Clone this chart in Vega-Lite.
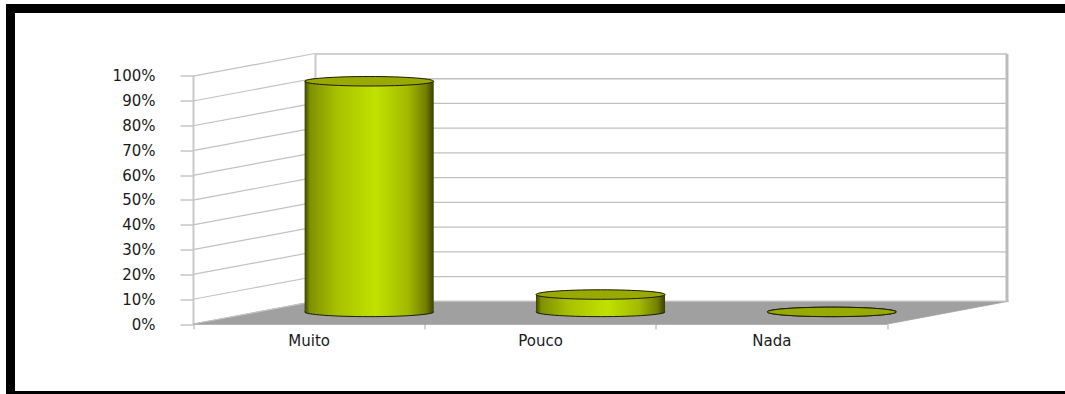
{
  "$schema": "https://vega.github.io/schema/vega-lite/v6.json",
  "autosize": {"type": "none"},
  "padding": {"left": 10.5, "top": 8.5, "right": -12, "bottom": -1.5},
  "width": 1066.5,
  "height": 387,
  "background": "white",
  "config": {
    "view": {"stroke": "black", "strokeWidth": 9, "fill": "white"},
    "axis": {"labelFont": "DejaVu Sans", "labelFontSize": 15, "labelColor": "#1a1a1a"}
  },
  "datasets": {
    "respostas": [
      {"resposta": "Muito", "percentual": 0.93},
      {"resposta": "Pouco", "percentual": 0.07},
      {"resposta": "Nada", "percentual": 0}
    ],
    "marcas": [
      {"v": 0}, {"v": 0.1}, {"v": 0.2}, {"v": 0.3}, {"v": 0.4}, {"v": 0.5},
      {"v": 0.6}, {"v": 0.7}, {"v": 0.8}, {"v": 0.9}, {"v": 1}
    ]
  },
  "resolve": {"scale": {"x": "independent", "y": "independent"}},
  "layer": [
    {
      "data": {"name": "respostas"},
      "mark": {"type": "point", "shape": "M-1,0.0644L0.3132,0.0644L1,-0.0644L-0.3132,-0.0644Z", "size": 124143, "filled": true, "fill": "#a0a0a0", "stroke": "#a0a0a0", "strokeWidth": 0.8, "opacity": 1},
      "encoding": {
        "x": {"field": "resposta", "type": "nominal", "sort": null, "scale": {"type": "band", "domain": ["Muito", "Pouco", "Nada"], "range": [243.5, 937.5], "paddingInner": 0, "paddingOuter": 0}, "axis": null},
        "y": {"datum": 0, "type": "quantitative", "scale": {"domain": [0, 1], "range": [304.15, 56.35], "nice": false}, "axis": null}
      }
    },
    {
      "data": {"name": "marcas"},
      "mark": {"type": "point", "shape": "M-1,0.1861L1,-0.1861", "size": 14884, "filled": false, "stroke": "#c2c2c2", "strokeWidth": 1.2, "opacity": 1},
      "encoding": {
        "x": {"datum": 0, "type": "quantitative", "scale": {"domain": [0, 3], "range": [243.5, 937.5], "nice": false}, "axis": null},
        "y": {"field": "v", "type": "quantitative", "scale": {"domain": [0, 1], "range": [304.15, 56.35], "nice": false}, "axis": null}
      }
    },
    {
      "data": {"name": "marcas"},
      "mark": {"type": "rule", "stroke": "#c0c0c0", "strokeWidth": 1.3},
      "encoding": {
        "x": {"datum": 0, "type": "quantitative", "scale": {"domain": [0, 3], "range": [304.5, 996.5], "nice": false}, "axis": null},
        "x2": {"datum": 3},
        "y": {"field": "v", "type": "quantitative", "scale": {"domain": [0, 1], "range": [292.8, 45.5], "nice": false},
              "axis": {"orient": "left", "offset": -304.5, "labels": false, "ticks": false, "grid": false, "domain": true, "domainColor": "#c8c8c8", "domainWidth": 2, "title": null}}
      }
    },
    {
      "data": {"values": [{}]},
      "mark": {"type": "rule", "stroke": "#bcbcbc", "strokeWidth": 3},
      "encoding": {
        "x": {"datum": 3, "type": "quantitative", "scale": {"domain": [0, 3], "range": [304.5, 996.5], "nice": false}, "axis": null},
        "y": {"datum": 0, "type": "quantitative", "scale": {"domain": [0, 1], "range": [292.8, 45.5], "nice": false}, "axis": null},
        "y2": {"datum": 1}
      }
    },
    {
      "data": {"name": "respostas"},
      "mark": {"type": "bar", "opacity": 0},
      "encoding": {
        "x": {"field": "resposta", "type": "nominal", "sort": null,
              "scale": {"type": "band", "domain": ["Muito", "Pouco", "Nada"], "range": [182.5, 876.5], "paddingInner": 0, "paddingOuter": 0},
              "axis": {"orient": "bottom", "offset": -71.5, "tickBand": "extent", "tickSize": 5, "tickColor": "#a8a8a8", "domainColor": "#c0c0c0", "labelAngle": 0, "labelPadding": 4, "title": null, "grid": false}},
        "y": {"field": "percentual", "type": "quantitative",
              "scale": {"domain": [0, 1], "range": [315.5, 67.2], "nice": false},
              "axis": {"orient": "left", "offset": -182.5, "values": [0, 0.1, 0.2, 0.3, 0.4, 0.5, 0.6, 0.7, 0.8, 0.9, 1], "format": ".0%", "tickSize": 13, "tickColor": "#a8a8a8", "domainColor": "#c8c8c8", "domainWidth": 2, "labelPadding": 25, "grid": false, "title": null}}
      }
    },
    {
      "data": {"name": "respostas"},
      "mark": {"type": "point", "shape": "M-1,0C-1,-0.0407,-0.5523,-0.0736,0,-0.0736C0.5523,-0.0736,1,-0.0407,1,0C1,0.0407,0.5523,0.0736,0,0.0736C-0.5523,0.0736,-1,0.0407,-1,0Z", "size": 16641, "filled": true, "opacity": 1, "stroke": "#1c1c00", "strokeWidth": 1,
        "fill": {"gradient": "linear", "x1": 0, "y1": 0, "x2": 1, "y2": 0, "stops": [
          {"offset": 0, "color": "#3a4200"}, {"offset": 0.04, "color": "#7f9000"}, {"offset": 0.25, "color": "#a8c100"},
          {"offset": 0.55, "color": "#c0e200"}, {"offset": 0.8, "color": "#a2ba00"}, {"offset": 0.94, "color": "#727f00"}, {"offset": 1, "color": "#384000"}]}},
      "encoding": {
        "x": {"field": "resposta", "type": "nominal", "sort": null, "scale": {"type": "band", "domain": ["Muito", "Pouco", "Nada"], "range": [243, 937], "paddingInner": 0.442, "paddingOuter": 0.221}, "axis": null},
        "y": {"datum": 0, "type": "quantitative", "scale": {"domain": [0, 1], "range": [303.4, 55.4], "nice": false}, "axis": null}
      }
    },
    {
      "data": {"name": "respostas"},
      "mark": {"type": "bar", "opacity": 1,
        "fill": {"gradient": "linear", "x1": 0, "y1": 0, "x2": 1, "y2": 0, "stops": [
          {"offset": 0, "color": "#3a4200"}, {"offset": 0.04, "color": "#7f9000"}, {"offset": 0.25, "color": "#a8c100"},
          {"offset": 0.55, "color": "#c0e200"}, {"offset": 0.8, "color": "#a2ba00"}, {"offset": 0.94, "color": "#727f00"}, {"offset": 1, "color": "#384000"}]}},
      "encoding": {
        "x": {"field": "resposta", "type": "nominal", "sort": null, "scale": {"type": "band", "domain": ["Muito", "Pouco", "Nada"], "range": [243, 937], "paddingInner": 0.442, "paddingOuter": 0.221}, "axis": null},
        "y": {"field": "percentual", "type": "quantitative", "scale": {"domain": [0, 1], "range": [303.4, 55.4], "nice": false}, "axis": null}
      }
    },
    {
      "data": {"name": "respostas"},
      "mark": {"type": "point", "shape": "M-1,0C-1,-0.0407,-0.5523,-0.0736,0,-0.0736C0.5523,-0.0736,1,-0.0407,1,0C1,0.0407,0.5523,0.0736,0,0.0736C-0.5523,0.0736,-1,0.0407,-1,0Z", "size": 16641, "filled": true, "opacity": 1, "fill": "#98aa00", "stroke": "#1c1c00", "strokeWidth": 1},
      "encoding": {
        "x": {"field": "resposta", "type": "nominal", "sort": null, "scale": {"type": "band", "domain": ["Muito", "Pouco", "Nada"], "range": [243, 937], "paddingInner": 0.442, "paddingOuter": 0.221}, "axis": null},
        "y": {"field": "percentual", "type": "quantitative", "scale": {"domain": [0, 1], "range": [303.4, 55.4], "nice": false}, "axis": null}
      }
    }
  ]
}
